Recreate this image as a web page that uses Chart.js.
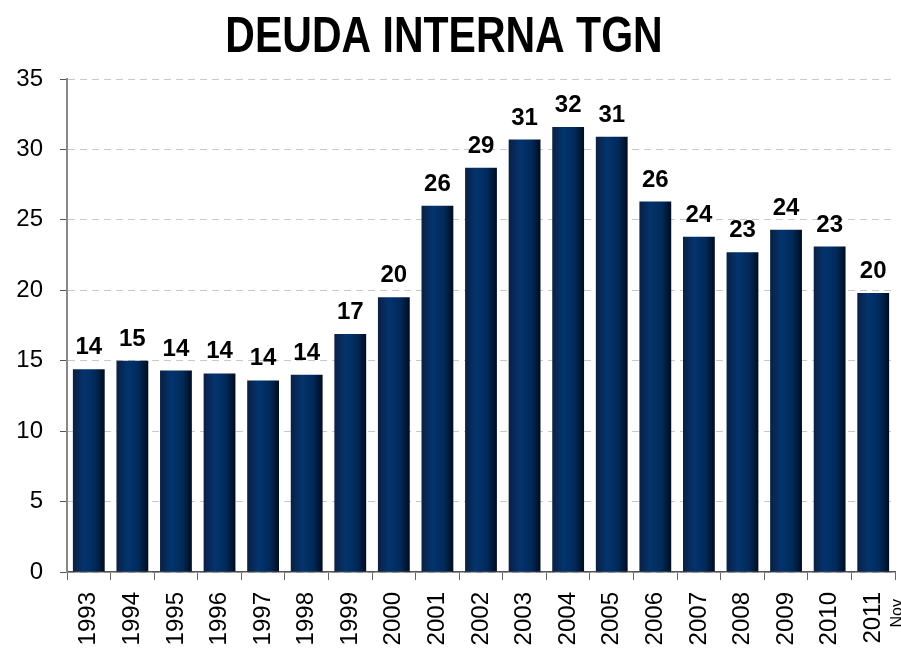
<!DOCTYPE html>
<html>
<head>
<meta charset="utf-8">
<title>DEUDA INTERNA TGN</title>
<script src="https://cdn.jsdelivr.net/npm/chart.js@4/dist/chart.umd.min.js"></script>
<style>
  html, body { margin: 0; padding: 0; background: #fff; overflow: hidden; }
  #wrap { width: 901px; height: 648px; }
</style>
</head>
<body>
<div id="wrap"><canvas id="deudaChart"></canvas></div>
<script>
// datos
const titulo = 'DEUDA INTERNA TGN';
const years = ['1993', '1994', '1995', '1996', '1997', '1998', '1999', '2000', '2001', '2002',
  '2003', '2004', '2005', '2006', '2007', '2008', '2009', '2010', '2011'];
const deuda = [14.4, 15.0, 14.3, 14.1, 13.6, 14.0, 16.9, 19.5, 26.0, 28.7,
  30.7, 31.6, 30.9, 26.3, 23.8, 22.7, 24.3, 23.1, 19.8];
const notaUltimo = 'Nov';
const yMin = 0, yMax = 35, yStep = 5;

const fontFam = "'Liberation Sans', Arial, sans-serif";

// degradado tipo cilindro en cada barra
function barGradient(c) {
  const chart = c.chart;
  const area = chart.chartArea;
  if (!area || c.dataIndex === undefined) return '#022d62';
  const x = chart.scales.x.getPixelForValue(c.dataIndex);
  const w = (area.right - area.left) / years.length * 0.73;
  const g = chart.ctx.createLinearGradient(x - w / 2, 0, x + w / 2, 0);
  g.addColorStop(0, '#0b1f42');
  g.addColorStop(0.35, '#03346e');
  g.addColorStop(0.7, '#012a5a');
  g.addColorStop(1, '#000c1e');
  return g;
}

const titlePlugin = {
  id: 'tituloEstirado',
  afterDraw(chart) {
    const ctx = chart.ctx;
    ctx.save();
    ctx.translate(444, 52);
    ctx.scale(1, 1.2);
    ctx.font = 'bold 41px ' + fontFam;
    ctx.fillStyle = '#000';
    ctx.textAlign = 'center';
    ctx.textBaseline = 'alphabetic';
    ctx.fillText(titulo, 0, 0);
    ctx.restore();
  }
};

const valueLabels = {
  id: 'valueLabels',
  afterDatasetsDraw(chart) {
    const ctx = chart.ctx;
    const meta = chart.getDatasetMeta(0);
    ctx.save();
    ctx.font = 'bold 24px ' + fontFam;
    ctx.fillStyle = '#000';
    ctx.textAlign = 'center';
    ctx.textBaseline = 'alphabetic';
    meta.data.forEach((bar, i) => {
      ctx.fillText(String(Math.round(deuda[i])), bar.x, bar.y - 15);
    });
    ctx.restore();
  }
};

const notaPlugin = {
  id: 'notaUltimo',
  afterDraw(chart) {
    const ctx = chart.ctx;
    const xs = chart.scales.x;
    const x = xs.getPixelForValue(years.length - 1) + 24;
    ctx.save();
    ctx.translate(x, 599);
    ctx.rotate(-Math.PI / 2);
    ctx.font = '16px ' + fontFam;
    ctx.fillStyle = '#000';
    ctx.textAlign = 'right';
    ctx.textBaseline = 'middle';
    ctx.fillText(notaUltimo, 0, 0);
    ctx.restore();
  }
};

new Chart(document.getElementById('deudaChart'), {
  type: 'bar',
  data: {
    labels: years,
    datasets: [{
      data: deuda,
      backgroundColor: barGradient,
      borderWidth: 0,
      barPercentage: 0.73,
      categoryPercentage: 1
    }]
  },
  options: {
    responsive: true,
    maintainAspectRatio: false,
    animation: false,
    layout: { padding: { left: 16, right: 6, top: 79, bottom: 0 } },
    plugins: {
      legend: { display: false },
      title: { display: false },
      tooltip: { enabled: false }
    },
    scales: {
      x: {
        offset: true,
        afterFit(scale) {
          // las etiquetas quedan cortadas abajo como en el original
          scale.height = 76;
          scale.paddingLeft = 0;
          scale.paddingRight = 0;
        },
        grid: {
          display: true,
          drawOnChartArea: false,
          tickLength: 8,
          tickColor: '#666'
        },
        border: { display: true, color: '#555', width: 1.5 },
        ticks: {
          color: '#000',
          font: { family: fontFam, size: 24 },
          minRotation: 90,
          maxRotation: 90,
          autoSkip: false,
          padding: 12
        }
      },
      y: {
        min: yMin,
        max: yMax,
        afterFit(scale) {
          scale.width = 51;
        },
        grid: {
          color: '#c8c8c8',
          lineWidth: 1,
          tickLength: 7,
          tickColor: '#555',
          tickBorderDash: []
        },
        border: { display: true, color: '#888', width: 2, dash: [7, 5] },
        ticks: {
          stepSize: yStep,
          color: '#000',
          font: { family: fontFam, size: 24 },
          padding: 17
        }
      }
    }
  },
  plugins: [titlePlugin, valueLabels, notaPlugin]
});
</script>
</body>
</html>
